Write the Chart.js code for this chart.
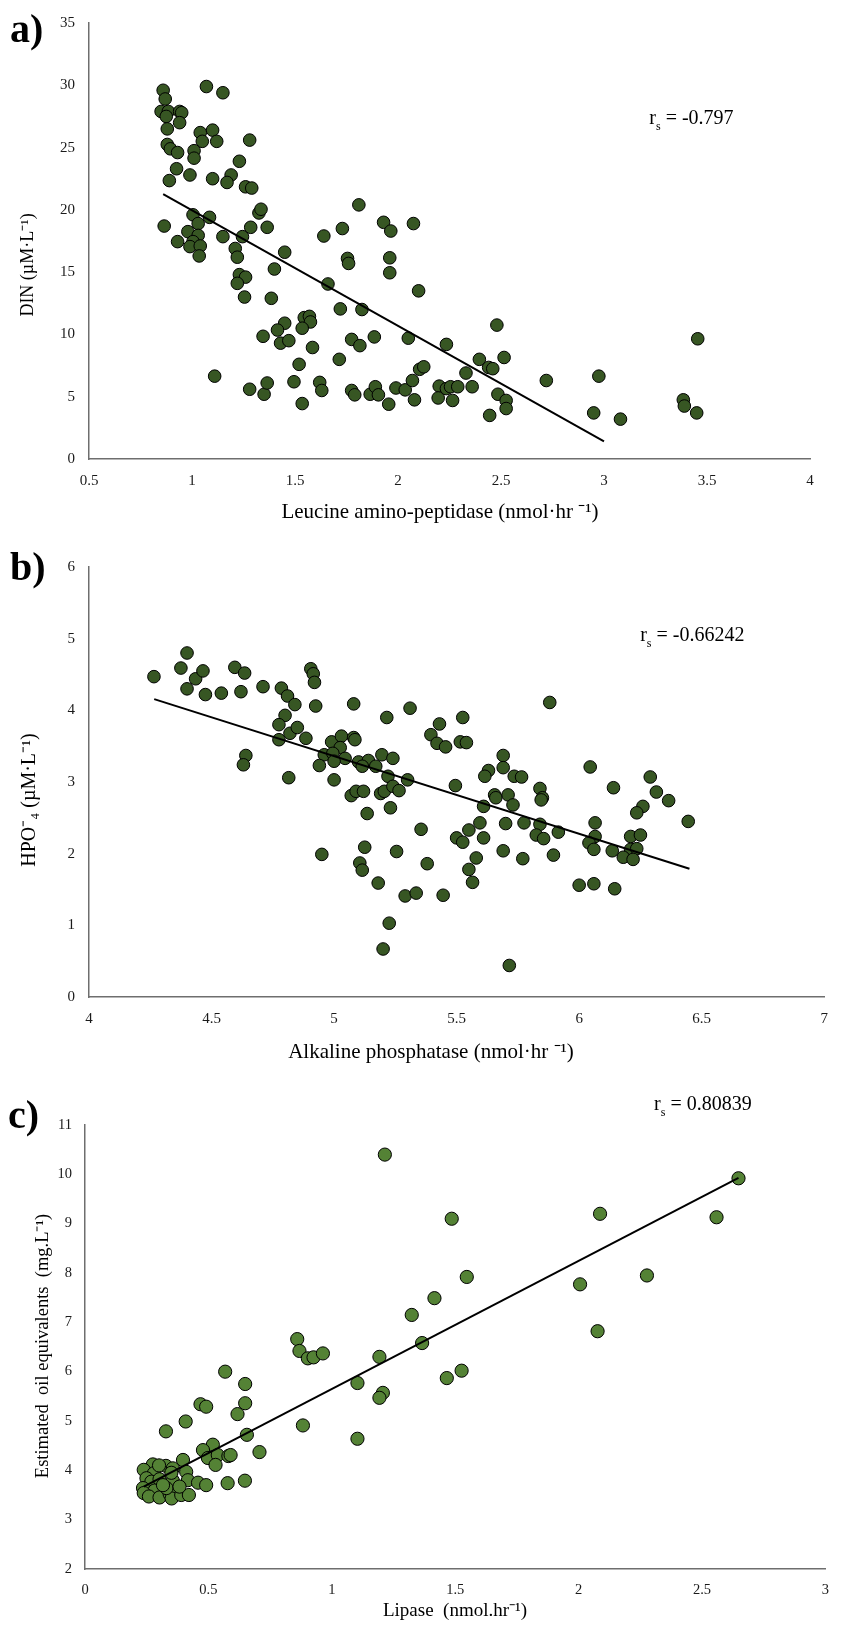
<!DOCTYPE html>
<html>
<head>
<meta charset="utf-8">
<script src="https://cdn.jsdelivr.net/npm/chart.js@4.4.1/dist/chart.umd.min.js"></script>
<style>
  body { margin: 0; background: #fff; }
  canvas { position: absolute; left: 0; }
</style>
</head>
<body>
<canvas id="chartA" width="841" height="530" style="top:0"></canvas>
<canvas id="chartB" width="841" height="550" style="top:530px"></canvas>
<canvas id="chartC" width="841" height="565" style="top:1060px"></canvas>
<script>
// a) leucine amino-peptidase vs DIN
const lapX = [0.86, 0.87, 0.85, 0.885, 0.875, 0.88, 0.94, 0.95, 0.94, 1.07, 1.15, 1.04, 1.10, 1.05, 1.12, 1.28,
  0.88, 0.895, 0.93, 1.01, 1.01, 0.925, 0.89, 0.99, 1.10, 1.19, 1.17, 1.23, 1.26, 1.29, 1.325, 1.335,
  0.865, 1.005, 1.085, 1.03, 0.98, 1.03, 0.93, 1.005, 1.15, 1.245, 1.285, 1.365, 1.21, 1.45, 1.64, 1.73,
  1.81, 1.93, 1.965, 2.075, 0.99, 1.04, 1.035, 1.22, 1.40, 1.23, 1.26, 1.22, 1.255, 1.385, 1.755, 1.76,
  1.96, 1.96, 1.66, 1.72, 1.825, 2.10, 1.545, 1.57, 1.575, 1.535, 1.45, 1.415, 1.345, 1.43, 1.47, 1.585,
  1.775, 1.815, 1.885, 2.05, 1.715, 1.52, 1.11, 2.105, 2.125, 1.28, 1.35, 1.365, 1.495, 1.535, 1.62, 1.63,
  1.775, 1.79, 1.865, 1.89, 1.905, 1.955, 1.99, 2.035, 2.07, 2.08, 2.48, 2.235, 2.395, 2.515, 2.44, 2.46,
  2.33, 2.72, 2.975, 3.455, 2.20, 2.235, 2.255, 2.29, 2.36, 2.195, 2.265, 2.485, 2.525, 2.525, 2.445, 2.95,
  3.08, 3.385, 3.39, 3.45];
const dinY = [29.6, 28.9, 27.9, 27.9, 27.5, 26.5, 27.9, 27.8, 27.0, 29.9, 29.4, 26.2, 26.4, 25.5, 25.5, 25.6,
  25.25, 24.9, 24.6, 24.75, 24.15, 23.3, 22.35, 22.8, 22.5, 22.8, 22.2, 23.9, 21.85, 21.75, 19.75, 20.05,
  18.7, 19.6, 19.4, 18.9, 18.25, 17.95, 17.45, 17.45, 17.85, 17.85, 18.6, 18.6, 16.9, 16.6, 17.9, 18.5,
  20.4, 19.0, 18.3, 18.9, 17.05, 17.1, 16.3, 16.2, 15.25, 14.8, 14.6, 14.1, 13.0, 12.9, 16.1, 15.7,
  16.15, 14.95, 14.05, 12.05, 12.0, 13.5, 11.35, 11.45, 11.0, 10.5, 10.9, 10.35, 9.85, 9.3, 9.5, 8.95,
  9.6, 9.1, 9.8, 9.7, 8.0, 7.6, 6.65, 7.2, 7.4, 5.6, 5.2, 6.1, 6.2, 4.45, 6.15, 5.5,
  5.5, 5.15, 5.2, 5.8, 5.15, 4.4, 5.7, 5.55, 6.3, 4.75, 10.75, 9.2, 8.0, 8.15, 7.35, 7.25,
  6.9, 6.3, 6.65, 9.65, 5.85, 5.65, 5.8, 5.8, 5.8, 4.9, 4.7, 5.2, 4.7, 4.05, 3.5, 3.7,
  3.2, 4.75, 4.25, 3.7];
const trendAX = [0.86, 3.0];
const trendAY = [21.27, 1.42];
const ticksAX = [0.5, 1, 1.5, 2, 2.5, 3, 3.5, 4];
const ticksAY = [0, 5, 10, 15, 20, 25, 30, 35];

// b) alkaline phosphatase vs HPO4
const alpX = [4.265, 4.375, 4.40, 4.435, 4.465, 4.40, 4.475, 4.54, 4.595, 4.635, 4.62, 4.71, 4.785, 4.81, 4.84, 4.905,
  4.915, 4.92, 4.925, 5.08, 5.31, 5.215, 4.80, 4.775, 4.82, 4.85, 4.775, 4.885, 4.99, 5.03, 5.025, 5.08,
  5.085, 4.64, 4.63, 4.96, 4.995, 5.045, 4.94, 5.10, 5.14, 5.195, 5.24, 5.17, 4.815, 5.0, 5.115, 5.22,
  5.0, 5.30, 5.07, 5.09, 5.12, 5.19, 5.205, 5.24, 5.265, 5.135, 5.23, 4.95, 5.125, 5.105, 5.115, 5.255,
  5.18, 5.29, 5.225, 5.20, 5.88, 5.43, 5.395, 5.42, 5.455, 5.525, 5.515, 5.54, 5.495, 5.69, 5.69, 5.63,
  5.615, 5.735, 5.765, 6.045, 6.29, 6.14, 6.315, 6.365, 5.655, 5.66, 5.71, 5.84, 5.85, 5.845, 5.61, 5.73,
  6.26, 6.235, 6.445, 5.595, 5.70, 5.775, 5.84, 6.065, 5.355, 5.55, 5.915, 5.50, 5.525, 5.61, 5.825, 5.855,
  6.065, 6.04, 6.21, 6.25, 6.06, 6.135, 6.21, 6.235, 6.18, 6.22, 5.69, 5.58, 5.77, 5.895, 5.38, 5.55,
  5.565, 6.0, 6.06, 6.145, 5.335, 5.445, 5.715];
const hpoY = [4.47, 4.59, 4.80, 4.44, 4.55, 4.30, 4.22, 4.24, 4.60, 4.52, 4.26, 4.33, 4.31, 4.20, 4.08, 4.58,
  4.51, 4.39, 4.06, 4.09, 4.03, 3.90, 3.93, 3.80, 3.68, 3.76, 3.59, 3.61, 3.56, 3.64, 3.48, 3.62,
  3.59, 3.37, 3.24, 3.38, 3.40, 3.33, 3.23, 3.28, 3.30, 3.38, 3.33, 3.22, 3.06, 3.29, 3.22, 3.08,
  3.03, 3.03, 2.81, 2.87, 2.87, 2.84, 2.87, 2.94, 2.88, 2.56, 2.64, 1.99, 2.09, 1.87, 1.77, 2.03,
  1.59, 1.41, 1.03, 0.67, 4.11, 3.81, 3.66, 3.54, 3.49, 3.90, 3.56, 3.55, 2.95, 3.37, 3.20, 3.16,
  3.08, 3.08, 3.07, 3.21, 3.07, 2.92, 2.86, 2.74, 2.82, 2.78, 2.82, 2.91, 2.78, 2.75, 2.66, 2.68,
  2.66, 2.57, 2.45, 2.43, 2.42, 2.43, 2.41, 2.43, 2.34, 2.33, 2.30, 2.22, 2.16, 2.22, 2.26, 2.21,
  2.24, 2.15, 2.24, 2.26, 2.06, 2.04, 2.06, 2.07, 1.95, 1.92, 2.04, 1.94, 1.93, 1.98, 1.86, 1.78,
  1.60, 1.56, 1.58, 1.51, 1.45, 1.42, 0.44];
const trendBX = [4.266, 6.45];
const trendBY = [4.156, 1.79];
const ticksBX = [4, 4.5, 5, 5.5, 6, 6.5, 7];
const ticksBY = [0, 1, 2, 3, 4, 5, 6];

// c) lipase vs estimated oil equivalents
const lipX = [1.215, 2.648, 1.486, 2.087, 2.559, 1.547, 1.416, 1.324, 2.006, 2.277, 1.366, 2.077, 1.193, 1.466, 1.526, 1.207,
  1.193, 0.86, 0.869, 0.903, 0.926, 0.964, 1.104, 0.568, 0.649, 0.649, 0.618, 0.468, 0.491, 0.408, 0.328, 0.883,
  1.104, 0.656, 0.518, 0.478, 0.498, 0.538, 0.529, 0.581, 0.59, 0.707, 0.397, 0.328, 0.275, 0.238, 0.41, 0.279,
  0.356, 0.249, 0.269, 0.302, 0.356, 0.417, 0.458, 0.491, 0.578, 0.648, 0.235, 0.282, 0.238, 0.259, 0.302, 0.343,
  0.351, 0.39, 0.421, 0.33, 0.383, 0.316, 0.30, 0.35];
const oilY = [10.4, 9.92, 9.10, 9.20, 9.13, 7.92, 7.49, 7.15, 7.77, 7.95, 6.58, 6.82, 6.30, 5.87, 6.02, 5.57,
  5.47, 6.66, 6.42, 6.27, 6.29, 6.37, 5.77, 6.0, 5.75, 5.36, 5.14, 5.34, 5.29, 4.99, 4.79, 4.91,
  4.64, 4.72, 4.52, 4.41, 4.25, 4.31, 4.11, 4.29, 4.31, 4.37, 4.21, 4.09, 4.12, 4.01, 3.97, 3.94,
  4.04, 3.84, 3.77, 3.82, 3.79, 3.80, 3.75, 3.70, 3.74, 3.79, 3.64, 3.59, 3.54, 3.47, 3.45, 3.52,
  3.43, 3.50, 3.50, 3.64, 3.67, 3.70, 4.10, 3.95];
const trendCX = [0.238, 2.648];
const trendCY = [3.67, 9.93];
const ticksCX = [0, 0.5, 1, 1.5, 2, 2.5, 3];
const ticksCY = [2, 3, 4, 5, 6, 7, 8, 9, 10, 11];

const serif = "'Liberation Serif', 'Times New Roman', serif";
const axisGrey = "#6e6e6e";

const toPoints = (xs, ys) => xs.map((x, i) => ({ x, y: ys[i] }));

// panel letter, axis titles and the r_s note, drawn on top of the chart
function notesPlugin(n) {
  return {
    id: "notes",
    afterDraw(chart) {
      const ctx = chart.ctx;
      ctx.save();
      ctx.fillStyle = "#000";
      ctx.textBaseline = "middle";

      ctx.font = `bold 40px ${serif}`;
      ctx.textAlign = "left";
      ctx.fillText(n.panel, n.panelX, n.panelY);

      ctx.textAlign = "center";
      ctx.font = `${n.xTitleSize}px ${serif}`;
      ctx.fillText(n.xTitle, n.xTitleX, n.xTitleY);
      ctx.save();
      ctx.font = `${n.yTitleSize}px ${serif}`;
      ctx.translate(n.yTitleX, n.yTitleY);
      ctx.rotate(-Math.PI / 2);
      ctx.fillText(n.yTitle, 0, 0);
      ctx.restore();

      // r with subscript s, anchored in data space
      const px = chart.scales.x.getPixelForValue(n.rAt[0]);
      const py = chart.scales.y.getPixelForValue(n.rAt[1]);
      ctx.textAlign = "left";
      ctx.textBaseline = "alphabetic";
      ctx.font = `${n.rSize}px ${serif}`;
      ctx.fillText("r", px, py);
      let cx = px + ctx.measureText("r").width;
      ctx.font = `${Math.round(n.rSize * 0.6)}px ${serif}`;
      ctx.fillText("s", cx, py + n.rSize * 0.3);
      cx += ctx.measureText("s").width;
      ctx.font = `${n.rSize}px ${serif}`;
      ctx.fillText(" = " + n.rText, cx, py);
      ctx.restore();
    }
  };
}

function linearAxis(min, max, ticks, fontSize, pad, size, horizontal) {
  return {
    type: "linear",
    min, max,
    afterBuildTicks: s => { s.ticks = ticks.map(v => ({ value: v })); },
    afterFit: s => { if (horizontal) s.height = size; else s.width = size; },
    ticks: {
      autoSkip: false,
      maxRotation: 0,
      padding: pad,
      color: "#1a1a1a",
      font: { family: serif, size: fontSize },
      callback: v => String(v)
    },
    grid: { display: false, drawTicks: false },
    border: { display: true, color: axisGrey, width: 1.5 }
  };
}

function makeChart(id, d) {
  return new Chart(document.getElementById(id), {
    type: "scatter",
    data: {
      datasets: [
        {
          type: "line",
          data: toPoints(d.trendX, d.trendY),
          borderColor: "#000",
          borderWidth: 2,
          pointRadius: 0,
          fill: false
        },
        {
          data: toPoints(d.xs, d.ys),
          backgroundColor: d.fill,
          borderColor: "#000",
          borderWidth: 1,
          pointRadius: d.radius,
          pointHoverRadius: d.radius
        }
      ]
    },
    options: {
      responsive: false,
      animation: false,
      layout: { padding: d.padding },
      plugins: { legend: { display: false }, tooltip: { enabled: false } },
      scales: {
        x: linearAxis(d.xTicks[0], d.xTicks[d.xTicks.length - 1], d.xTicks, d.tickSize, d.xPad, d.xAxisH, true),
        y: linearAxis(d.yTicks[0], d.yTicks[d.yTicks.length - 1], d.yTicks, d.tickSize, d.yPad, d.yAxisW, false)
      }
    },
    plugins: [notesPlugin(d.notes)]
  });
}

makeChart("chartA", {
  xs: lapX, ys: dinY, trendX: trendAX, trendY: trendAY,
  xTicks: ticksAX, yTicks: ticksAY,
  fill: "#375623", radius: 6.3, tickSize: 15, xPad: 13, yPad: 14,
  padding: { top: 20, right: 31, bottom: 0, left: 0 },
  yAxisW: 89, xAxisH: 71,
  notes: {
    panel: "a)", panelX: 10, panelY: 32,
    xTitleSize: 21, yTitleSize: 18,
    xTitle: "Leucine amino-peptidase (nmol·hr \u207B\u00B9)", xTitleX: 440, xTitleY: 512,
    yTitle: "DIN (µM·L\u207B\u00B9)", yTitleX: 28, yTitleY: 265,
    rAt: [3.22, 26.87], rSize: 20, rText: "-0.797"
  }
});

makeChart("chartB", {
  xs: alpX, ys: hpoY, trendX: trendBX, trendY: trendBY,
  xTicks: ticksBX, yTicks: ticksBY,
  fill: "#375623", radius: 6.3, tickSize: 15, xPad: 13, yPad: 14,
  padding: { top: 37, right: 4, bottom: 0, left: 0 },
  yAxisW: 89, xAxisH: 83,
  notes: {
    panel: "b)", panelX: 10, panelY: 40,
    xTitleSize: 21, yTitleSize: 20,
    xTitle: "Alkaline phosphatase (nmol·hr \u207B\u00B9)", xTitleX: 431, xTitleY: 522,
    yTitle: "HPO\u207B\u2084 (µM·L\u207B\u00B9)", yTitleX: 30, yTitleY: 270,
    rAt: [6.249, 4.965], rSize: 20, rText: "-0.66242"
  }
});

makeChart("chartC", {
  xs: lipX, ys: oilY, trendX: trendCX, trendY: trendCY,
  xTicks: ticksCX, yTicks: ticksCY,
  fill: "#548235", radius: 6.6, tickSize: 14.5, xPad: 12, yPad: 13,
  padding: { top: 65, right: 15, bottom: 0, left: 0 },
  yAxisW: 85, xAxisH: 56,
  notes: {
    panel: "c)", panelX: 8, panelY: 58,
    xTitleSize: 19, yTitleSize: 18.5,
    xTitle: "Lipase  (nmol.hr\u207B\u00B9)", xTitleX: 455, xTitleY: 551,
    yTitle: "Estimated  oil equivalents  (mg.L\u207B\u00B9)", yTitleX: 43, yTitleY: 286,
    rAt: [2.306, 11.31], rSize: 20, rText: "0.80839"
  }
});
</script>
</body>
</html>
